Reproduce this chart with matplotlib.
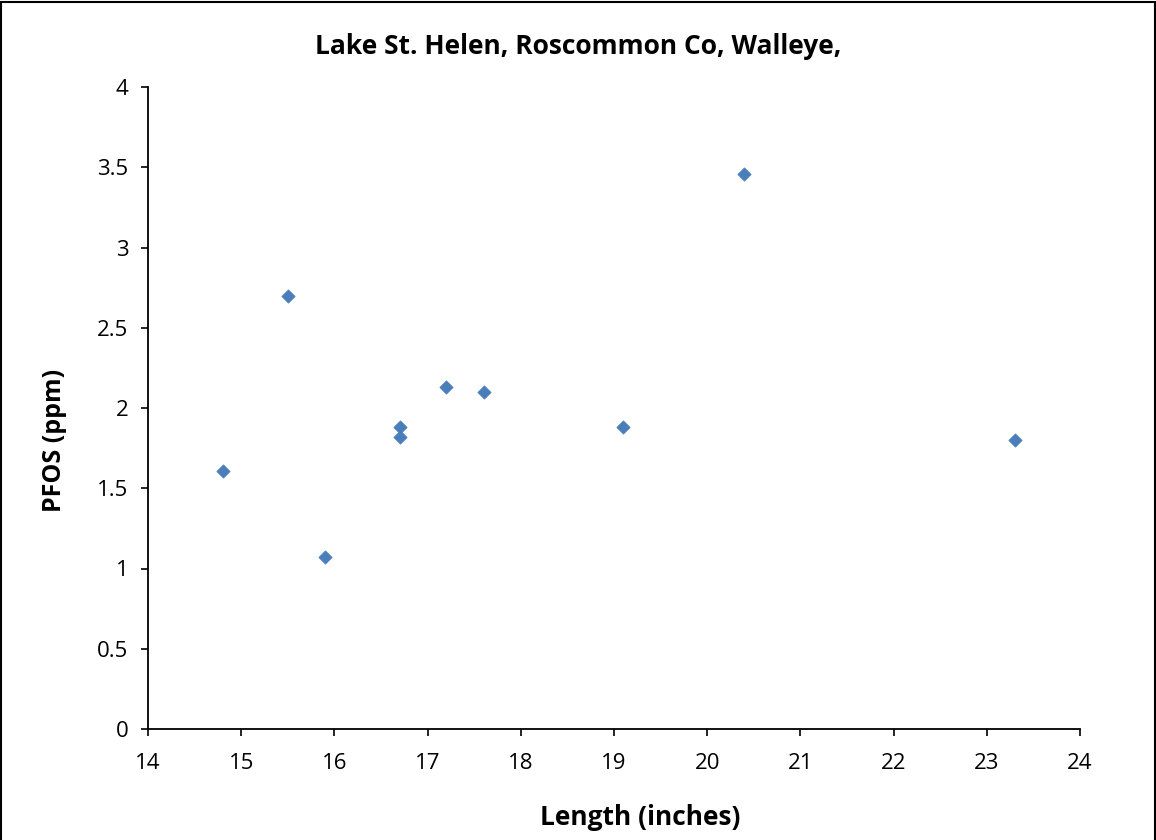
import matplotlib.pyplot as plt
from matplotlib.patches import Rectangle

lengthInches = [14.8, 15.5, 15.9, 16.7, 16.7, 17.2, 17.6, 19.1, 20.4, 23.3]
pfosPpm = [1.61, 2.70, 1.07, 1.88, 1.82, 2.13, 2.10, 1.88, 3.46, 1.80]
xTicks = [14, 15, 16, 17, 18, 19, 20, 21, 22, 23, 24]
yTicks = [0, 0.5, 1, 1.5, 2, 2.5, 3, 3.5, 4]

plt.rcParams['font.family'] = ['Open Sans', 'DejaVu Sans']

fig = plt.figure(figsize=(11.56, 8.4), dpi=100)
ax = fig.add_axes([148 / 1156, 111 / 840, 932 / 1156, 642 / 840])

ax.scatter(lengthInches, pfosPpm, marker='D', s=46, color='#4a7ebb',
           edgecolors='#4a7ebb', linewidths=0.5, zorder=3)

ax.set_xlim(14, 24)
ax.set_ylim(0, 4)
ax.set_xticks(xTicks)
ax.set_yticks(yTicks)
ax.set_yticklabels(['0', '0.5', '1', '1.5', '2', '2.5', '3', '3.5', '4'])
ax.tick_params(direction='out', length=5, width=1.2, labelsize=16, pad=9)
ax.tick_params(axis='x', pad=12)

for side in ['top', 'right']:
    ax.spines[side].set_visible(False)
for side in ['left', 'bottom']:
    ax.spines[side].set_linewidth(1.3)

# title is centred on the whole figure, not on the axes
fig.text(0.5, 1 - 47 / 840, 'Lake St. Helen, Roscommon Co, Walleye,', fontsize=19,
         fontweight='bold', ha='center', va='center')
ax.set_xlabel('Length (inches)', fontsize=19, fontweight='bold', labelpad=22)
ax.xaxis.label.set_x((640 - 148) / 932)
ax.set_ylabel('PFOS (ppm)', fontsize=18, fontweight='bold', labelpad=22)
ax.yaxis.label.set_y((729 - 440) / 642)

fig.patches.append(Rectangle((0.001, -0.01), 0.998, 1.008, transform=fig.transFigure,
                             fill=False, edgecolor='black', linewidth=1.5))

fig.savefig('out.png', dpi=100)
